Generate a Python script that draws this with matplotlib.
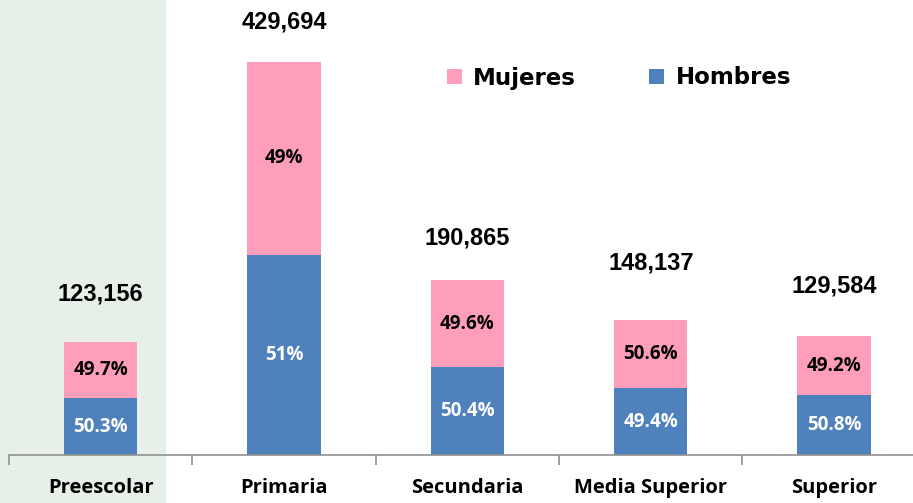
import matplotlib.pyplot as plt
import matplotlib.patches as mpatches
import numpy as np

# Matrícula por nivel educativo y sexo
niveles = ['Preescolar', 'Primaria', 'Secundaria', 'Media Superior', 'Superior']
totales = [123156, 429694, 190865, 148137, 129584]
pct_hombres = [50.3, 51, 50.4, 49.4, 50.8]
pct_mujeres = [49.7, 49, 49.6, 50.6, 49.2]
etiq_hombres = ['50.3%', '51%', '50.4%', '49.4%', '50.8%']
etiq_mujeres = ['49.7%', '49%', '49.6%', '50.6%', '49.2%']

azul = '#4F81BD'
rosa = '#FF9EBB'


def grafica():
    fig = plt.figure(figsize=(9.13, 5.03), dpi=100)
    # franja verde detrás de preescolar
    fig.patches.append(mpatches.Rectangle((0, 0), 166 / 913, 1, transform=fig.transFigure,
                                          facecolor='#E6F0E8', edgecolor='none', zorder=-1))
    ax = fig.add_axes([9 / 913, 48 / 503, 904 / 913, 455 / 503])
    ax.patch.set_alpha(0)

    x = np.arange(len(niveles))
    tot = np.array(totales, dtype=float)
    h = tot * np.array(pct_hombres) / 100
    m = tot - h

    ax.bar(x, h, width=0.40, color=azul, label='Hombres', zorder=2)
    ax.bar(x, m, width=0.40, bottom=h, color=rosa, label='Mujeres', zorder=2)

    for i in range(len(x)):
        ax.text(x[i], h[i] / 2, etiq_hombres[i], ha='center', va='center', color='white',
                fontsize=13.5, fontweight='bold', family='Open Sans')
        ax.text(x[i], h[i] + m[i] / 2, etiq_mujeres[i], ha='center', va='center', color='black',
                fontsize=13.5, fontweight='bold', family='Open Sans')

    # totales sobre cada barra
    despl = [48, 40, 42, 57, 50]
    for i in range(len(x)):
        ax.annotate(f'{totales[i]:,}', (x[i], tot[i]), xytext=(0, despl[i] * 0.72),
                    textcoords='offset points', ha='center', va='center',
                    fontsize=17, fontweight='bold', family='Liberation Sans')

    for s in ['top', 'right', 'left']:
        ax.spines[s].set_visible(False)
    ax.spines['bottom'].set_color('#909090')
    ax.spines['bottom'].set_linewidth(1.2)
    ax.set_yticks([])
    ax.set_xticks(np.arange(-0.5, 5, 1))
    ax.set_xticklabels([])
    ax.tick_params(axis='x', length=7, width=1.2, color='#909090', direction='out')
    ax.set_xlim(-0.5, 4.43)
    ax.set_ylim(0, 497500)
    for i in range(len(x)):
        ax.text(x[i], -33 / 455 * 497500, niveles[i], ha='center', va='center',
                fontsize=14.5, fontweight='bold', family='Open Sans')

    hnd, lab = ax.get_legend_handles_labels()
    ax.legend(hnd[::-1], lab[::-1], ncol=2, frameon=False, loc='center',
              bbox_to_anchor=(610 / 904, 1 - 78 / 455), prop={'family': 'DejaVu Sans',
              'weight': 'bold', 'size': 16.5}, handlelength=0.65, handleheight=0.65,
              handletextpad=0.5, columnspacing=3.2)

    fig.savefig('out.png', dpi=100)


if __name__ == '__main__':
    grafica()
